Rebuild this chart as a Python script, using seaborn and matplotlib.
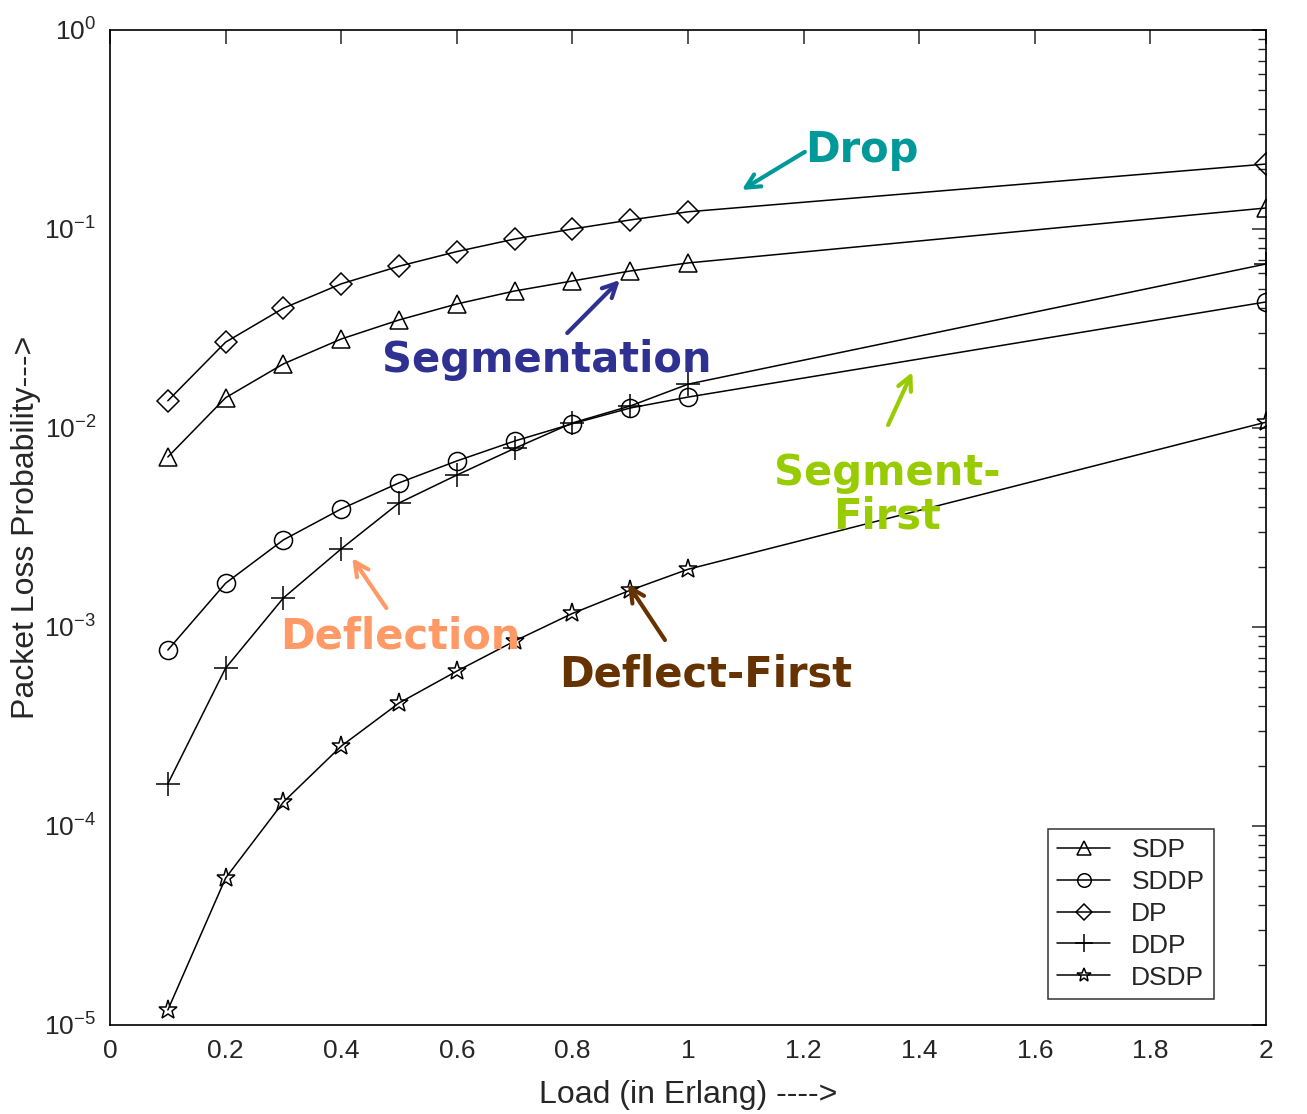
import numpy as np
import pandas as pd
import seaborn as sns
import matplotlib.pyplot as plt
from matplotlib.ticker import FixedLocator, LogLocator, NullFormatter

# Load (Erlang)
load = [0.1, 0.2, 0.3, 0.4, 0.5, 0.6, 0.7, 0.8, 0.9, 1.0, 2.0]

# Packet loss probability per scheme
sdp = [0.00715, 0.0142, 0.021, 0.028, 0.0349, 0.042, 0.0488, 0.0548, 0.0615, 0.0675, 0.1275]
sddp = [7.66e-4, 1.66e-3, 2.74e-3, 3.92e-3, 5.3e-3, 6.83e-3, 8.6e-3, 0.0105, 0.0126, 0.0143, 0.043]
dp = [0.0137, 0.027, 0.040, 0.053, 0.065, 0.077, 0.089, 0.100, 0.111, 0.122, 0.212]
ddp = [1.63e-4, 6.22e-4, 1.4e-3, 2.47e-3, 4.2e-3, 5.8e-3, 7.9e-3, 0.0106, 0.0129, 0.0166, 0.0667]
dsdp = [1.19e-5, 5.48e-5, 1.32e-4, 2.52e-4, 4.15e-4, 6.0e-4, 8.5e-4, 1.17e-3, 1.53e-3, 1.95e-3, 0.0107]

series_names = ['SDP', 'SDDP', 'DP', 'DDP', 'DSDP']
series_vals = [sdp, sddp, dp, ddp, dsdp]
markers = {'SDP': '^', 'SDDP': 'o', 'DP': 'D', 'DDP': '+', 'DSDP': '*'}
msizes = {'SDP': 13, 'SDDP': 13, 'DP': 11, 'DDP': 17, 'DSDP': 14}

xticks = [0, 0.2, 0.4, 0.6, 0.8, 1, 1.2, 1.4, 1.6, 1.8, 2]
xtick_labels = ['0', '0.2', '0.4', '0.6', '0.8', '1', '1.2', '1.4', '1.6', '1.8', '2']

# call-out labels: text, colour, text position, arrow tail, arrow head
note_text = ['Drop', 'Segmentation', 'Segment-\nFirst', 'Deflection', 'Deflect-First']
note_color = ['#009999', '#2e3192', '#99cc00', '#ff9966', '#663300']
note_pos = [(1.202, 0.249), (0.756, 0.022), (1.344, 0.0046), (0.502, 9.0e-4), (1.031, 5.74e-4)]
note_tail = [(1.202, 0.244), (0.791, 0.030), (1.346, 0.01035), (0.478, 1.245e-3), (0.960, 8.6e-4)]
note_head = [(1.093, 0.157), (0.882, 0.0554), (1.388, 0.0191), (0.419, 2.22e-3), (0.896, 1.64e-3)]
note_ha = ['left', 'center', 'center', 'center', 'center']

df = pd.DataFrame({
    'load': load * len(series_names),
    'plp': sum(series_vals, []),
    'scheme': sum([[n] * len(load) for n in series_names], []),
})

sns.set_style('white')
plt.rcParams['font.family'] = ['Liberation Sans', 'DejaVu Sans']

fig = plt.figure(figsize=(13.07, 11.14), dpi=100)
ax = fig.add_axes([0.0842, 0.0799, 0.8845, 0.8932])

for name in series_names:
    sub = df[df['scheme'] == name]
    sns.lineplot(data=sub, x='load', y='plp', ax=ax, color='black', lw=1.1,
                 marker=markers[name], markersize=msizes[name],
                 markerfacecolor='none', markeredgecolor='black',
                 markeredgewidth=1.1, label=name)

ax.set_yscale('log')
ax.set_xlim(0, 2)
ax.set_ylim(1e-5, 1)
ax.xaxis.set_major_locator(FixedLocator(xticks))
ax.set_xticklabels(xtick_labels)
ax.yaxis.set_major_locator(LogLocator(base=10, numticks=10))
ax.yaxis.set_minor_locator(LogLocator(base=10, subs=np.arange(2, 10), numticks=50))
ax.yaxis.set_minor_formatter(NullFormatter())

ax.tick_params(which='both', direction='in', top=True, right=True,
               labelsize=19, pad=10)
ax.tick_params(which='major', length=10, width=1.1)
ax.tick_params(which='minor', length=6, width=1.0)
for sp in ax.spines.values():
    sp.set_color('black')
    sp.set_linewidth(1.2)

ax.set_xlabel('Load (in Erlang) ---->', fontsize=23, labelpad=12)
ax.set_ylabel('Packet Loss Probability--->', fontsize=23)
ax.yaxis.set_label_coords(-0.060, 0.5)

leg = ax.legend(loc='lower right', fontsize=19, frameon=True, fancybox=False,
                edgecolor='black', handlelength=2.0, borderpad=0.35,
                labelspacing=0.3, markerscale=0.75,
                bbox_to_anchor=(0.966, 0.013))
leg.get_frame().set_linewidth(1.1)

for text, col, pos, tail, head, ha in zip(note_text, note_color, note_pos,
                                         note_tail, note_head, note_ha):
    ax.text(pos[0], pos[1], text, color=col, fontsize=30, fontweight='bold',
            family='DejaVu Sans', ha=ha, va='center', linespacing=1.05)
    ax.annotate('', xy=head, xytext=tail,
                arrowprops=dict(arrowstyle='->', color=col, lw=3,
                                mutation_scale=25, shrinkA=0, shrinkB=0))

fig.savefig('out.png', dpi=100)
